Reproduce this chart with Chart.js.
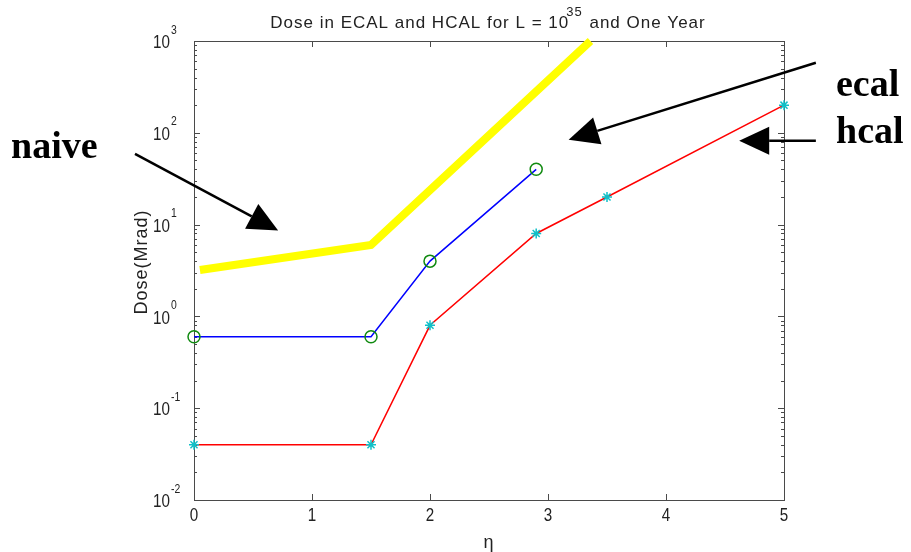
<!DOCTYPE html>
<html>
<head>
<meta charset="utf-8">
<script src="https://cdn.jsdelivr.net/npm/chart.js@4/dist/chart.umd.min.js"></script>
<style>
  html, body { margin: 0; padding: 0; background: #fff; }
  #wrap { width: 911px; height: 552px; }
</style>
</head>
<body>
<div id="wrap"><canvas id="myChart" width="911" height="552"></canvas></div>
<script>
// data
var etaEcal = [0, 1.5, 2, 2.9];
var doseEcal = [0.6, 0.6, 4, 40];
var etaHcal = [0, 1.5, 2, 2.9, 3.5, 5];
var doseHcal = [0.04, 0.04, 0.8, 8, 20, 200];
var etaNaive = [0.05, 1.5, 3.36];
var doseNaive = [3.2, 6, 1000];

var xTicks = [0, 1, 2, 3, 4, 5];
var yExponents = [-2, -1, 0, 1, 2, 3];

// annotation arrows, in (eta, dose): from -> tip
var arrowFrom = [[-0.5, 59], [5.27, 580], [5.27, 82]];
var arrowTo = [[0.713, 8.6], [3.175, 84], [4.62, 82]];
var noteText = ['naive', 'ecal', 'hcal'];

function pts(xs, ys) {
  return xs.map(function (x, i) { return { x: x, y: ys[i] }; });
}

var sans = '"Liberation Sans", Arial, sans-serif';

// condensed text, like the narrow Helvetica of the original
function narrowText(ctx, txt, x, y, size, align) {
  ctx.save();
  ctx.translate(x, y);
  ctx.scale(0.8, 1);
  ctx.font = size + 'px ' + sans;
  ctx.textAlign = align;
  ctx.fillText(txt, 0, 0);
  ctx.restore();
}

var matlabAxes = {
  id: 'matlabAxes',
  beforeDatasetsDraw: function (chart) {
    var ctx = chart.ctx, a = chart.chartArea;
    var xs = chart.scales.x, ys = chart.scales.y;
    ctx.save();
    ctx.strokeStyle = '#4a4a4a';
    ctx.lineWidth = 1;
    ctx.strokeRect(a.left + 0.5, a.top + 0.5, a.right - a.left, a.bottom - a.top);
    ctx.beginPath();
    xTicks.forEach(function (t) {
      var px = Math.round(xs.getPixelForValue(t)) + 0.5;
      ctx.moveTo(px, a.bottom); ctx.lineTo(px, a.bottom - 6);
      ctx.moveTo(px, a.top); ctx.lineTo(px, a.top + 6);
    });
    yExponents.forEach(function (e) {
      for (var m = 1; m < 10; m++) {
        if (e === 3 && m > 1) break;
        var py = Math.round(ys.getPixelForValue(m * Math.pow(10, e))) + 0.5;
        var len = m === 1 ? 6 : 3;
        ctx.moveTo(a.left, py); ctx.lineTo(a.left + len, py);
        ctx.moveTo(a.right, py); ctx.lineTo(a.right - len, py);
      }
    });
    ctx.stroke();

    ctx.fillStyle = '#222';
    ctx.textBaseline = 'middle';
    xTicks.forEach(function (t) {
      narrowText(ctx, String(t), xs.getPixelForValue(t), a.bottom + 16, 19, 'center');
    });
    yExponents.forEach(function (e) {
      var py = ys.getPixelForValue(Math.pow(10, e));
      narrowText(ctx, '10', a.left - 24, py + 2, 19, 'right');
      narrowText(ctx, String(e), a.left - 23, py - 11, 13, 'left');
    });

    // title with superscript
    ctx.letterSpacing = '1px';
    ctx.font = '17px ' + sans;
    var t1 = 'Dose in ECAL and HCAL for L = 10', t3 = ' and One Year';
    var w1 = ctx.measureText(t1).width, w3 = ctx.measureText(t3).width;
    ctx.font = '13px ' + sans;
    var w2 = ctx.measureText('35').width;
    var x0 = (a.left + a.right) / 2 - (w1 + w2 + w3) / 2;
    ctx.textAlign = 'left';
    ctx.font = '17px ' + sans;
    ctx.fillText(t1, x0, 23);
    ctx.font = '13px ' + sans;
    ctx.fillText('35', x0 + w1 - 3, 12);
    ctx.font = '17px ' + sans;
    ctx.fillText(t3, x0 + w1 + w2 - 2, 23);

    // axis titles
    ctx.textAlign = 'center';
    ctx.letterSpacing = '1px';
    ctx.font = '18px ' + sans;
    ctx.fillText('\u03b7', (a.left + a.right) / 2, 543);
    ctx.translate(142, 262);
    ctx.rotate(-Math.PI / 2);
    ctx.fillText('Dose(Mrad)', 0, 0);
    ctx.restore();
  },
  afterDraw: function (chart) {
    var ctx = chart.ctx, xs = chart.scales.x, ys = chart.scales.y;
    ctx.save();
    ctx.strokeStyle = '#000';
    ctx.fillStyle = '#000';
    ctx.lineWidth = 2.5;
    arrowFrom.forEach(function (f, i) {
      var x1 = xs.getPixelForValue(f[0]), y1 = ys.getPixelForValue(f[1]);
      var x2 = xs.getPixelForValue(arrowTo[i][0]), y2 = ys.getPixelForValue(arrowTo[i][1]);
      var ang = Math.atan2(y2 - y1, x2 - x1);
      var hl = 30, hw = 14;
      var bx = x2 - hl * Math.cos(ang), by = y2 - hl * Math.sin(ang);
      ctx.beginPath();
      ctx.moveTo(x1, y1); ctx.lineTo(bx, by);
      ctx.stroke();
      ctx.beginPath();
      ctx.moveTo(x2, y2);
      ctx.lineTo(bx + hw * Math.sin(ang), by - hw * Math.cos(ang));
      ctx.lineTo(bx - hw * Math.sin(ang), by + hw * Math.cos(ang));
      ctx.closePath();
      ctx.fill();
    });
    ctx.font = 'bold 38px "Liberation Serif", "Times New Roman", serif';
    ctx.textBaseline = 'middle';
    ctx.textAlign = 'left';
    ctx.fillText(noteText[0], 11, 148);
    ctx.fillText(noteText[1], 836, 86);
    ctx.fillText(noteText[2], 836, 133);
    ctx.restore();
  }
};

var ctx = document.getElementById('myChart');
var myChart = new Chart(ctx, {
  type: 'line',
  data: {
    datasets: [{
      label: 'naive',
      data: pts(etaNaive, doseNaive),
      borderColor: '#ffff00',
      borderWidth: 8,
      pointRadius: 0,
      borderCapStyle: 'butt',
      clip: false
    }, {
      label: 'ecal',
      data: pts(etaEcal, doseEcal),
      borderColor: '#0000ff',
      borderWidth: 1.5,
      pointStyle: 'circle',
      pointRadius: 6,
      pointBorderWidth: 1.5,
      pointBorderColor: '#108a10',
      pointBackgroundColor: 'rgba(0,0,0,0)',
      clip: false
    }, {
      label: 'hcal',
      data: pts(etaHcal, doseHcal),
      borderColor: '#ff0000',
      borderWidth: 1.5,
      pointStyle: 'star',
      pointRadius: 5,
      pointBorderWidth: 1.5,
      pointBorderColor: '#10c0c8',
      pointBackgroundColor: 'rgba(0,0,0,0)',
      clip: false
    }]
  },
  options: {
    responsive: false,
    animation: false,
    layout: { padding: { left: 194, top: 41, right: 127, bottom: 52 } },
    scales: {
      x: { type: 'linear', min: 0, max: 5, display: false },
      y: { type: 'logarithmic', min: 0.01, max: 1000, display: false }
    },
    plugins: {
      legend: { display: false },
      tooltip: { enabled: false }
    }
  },
  plugins: [matlabAxes]
});
</script>
</body>
</html>
